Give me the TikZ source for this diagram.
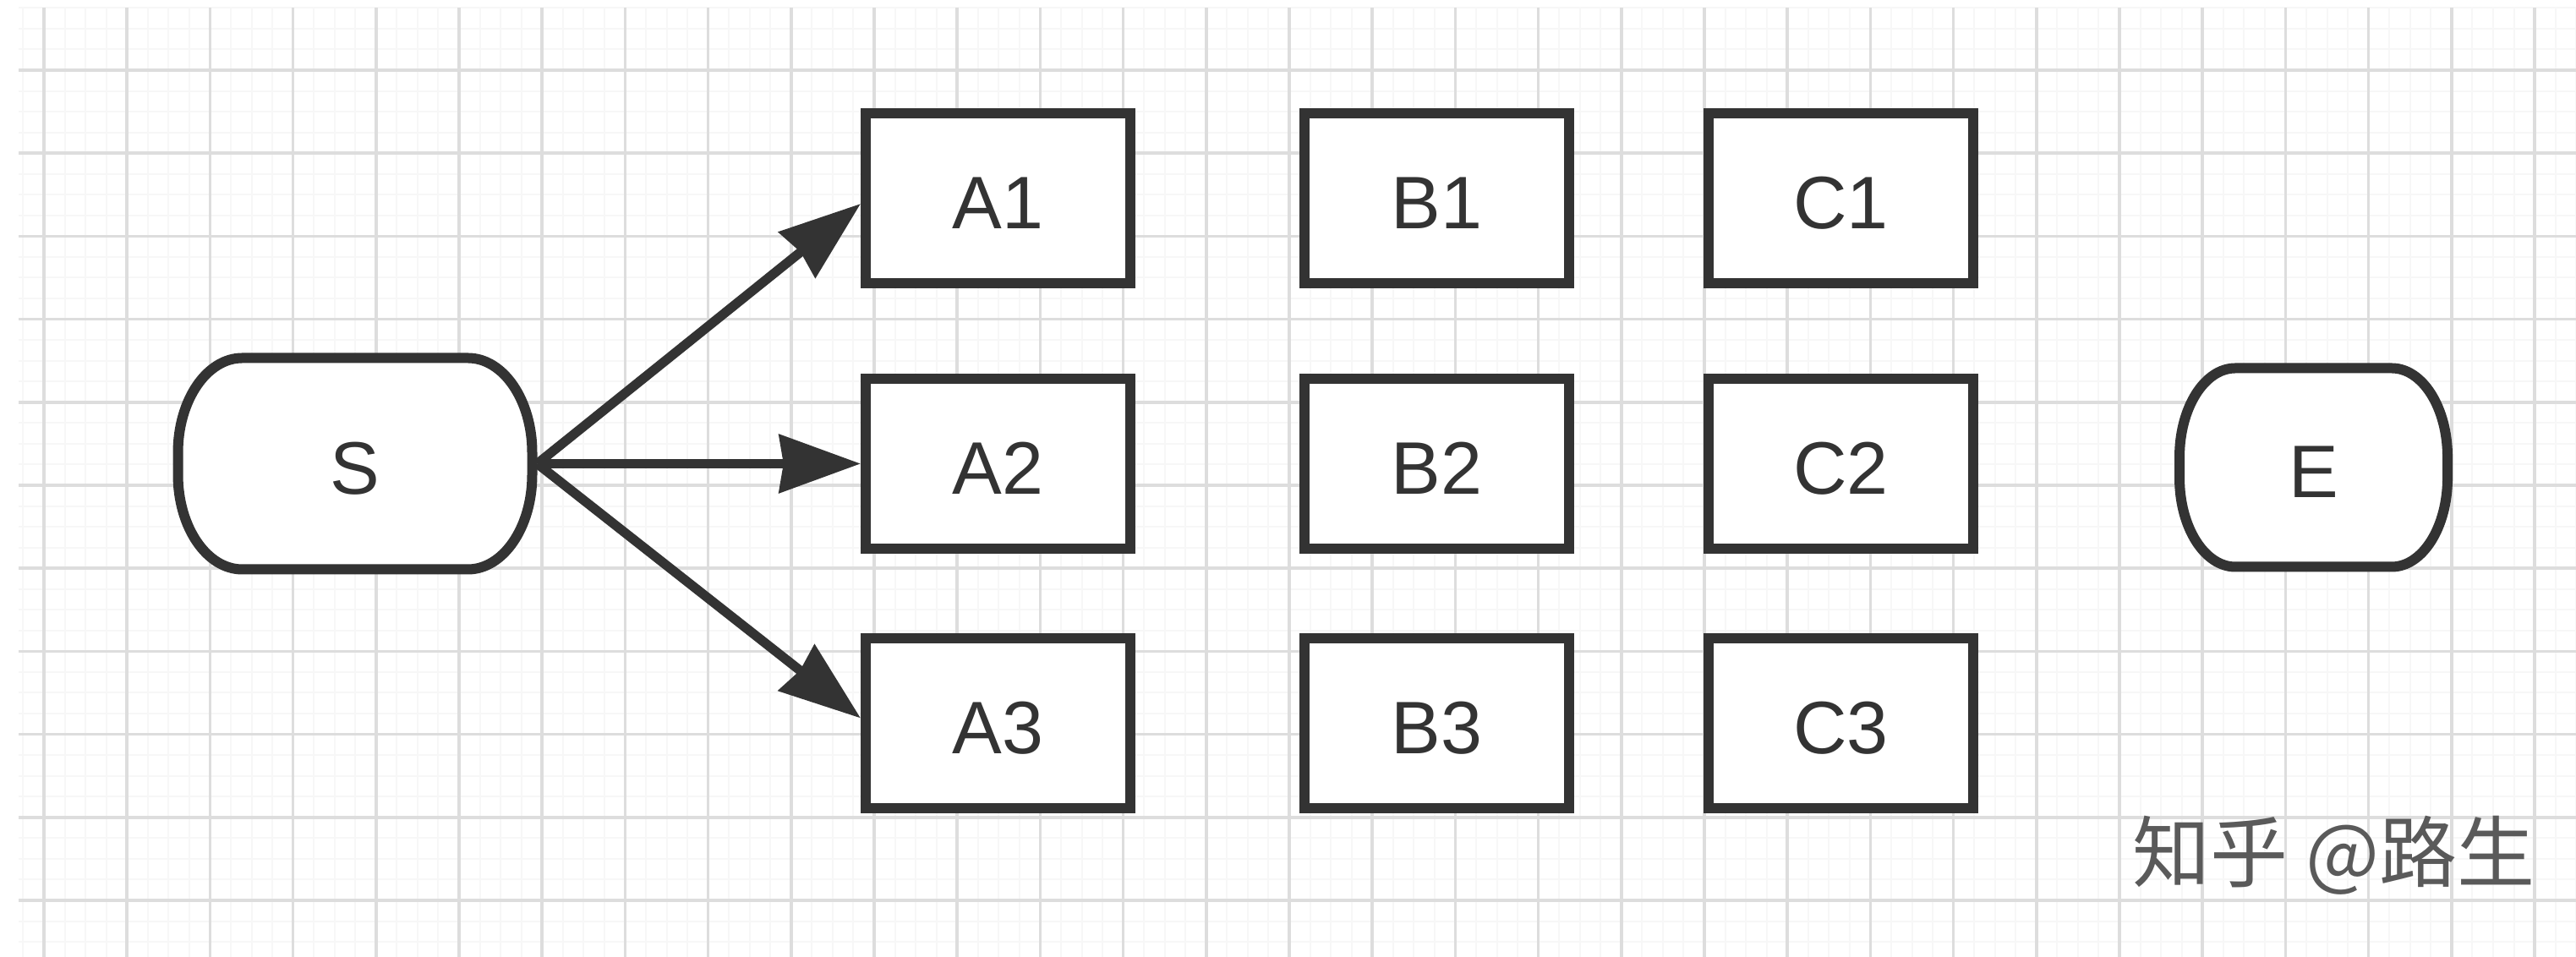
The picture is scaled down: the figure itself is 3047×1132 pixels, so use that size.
\documentclass[tikz,border=0pt]{standalone}
\usepackage{fontspec}
\setmainfont{Liberation Sans}
\newfontfamily\cjkfont{Noto Sans CJK SC}
\usetikzlibrary{arrows.meta}
\definecolor{ink}{HTML}{333333}
\definecolor{gridmaj}{HTML}{DDDDDD}
\definecolor{gridmin}{HTML}{F7F7F7}
\definecolor{wm}{HTML}{5A5A5A}
\pgfdeclarelayer{gridlayer}
\pgfdeclarelayer{shapelayer}
\pgfsetlayers{gridlayer,shapelayer,main}
\begin{document}
\begin{tikzpicture}[x=0.25pt,y=0.25pt,
  lbl/.style={text=ink, font=\fontsize{22}{26}\selectfont, text height=18pt, text depth=0pt},
  box/.style={lbl, draw=ink, line width=3pt, fill=white, minimum width=78.25pt, minimum height=50.25pt, inner sep=0pt},
  term/.style={lbl, inner sep=0pt, outer sep=0pt},
  termline/.style={draw=ink, fill=white, line width=3pt},
  conn/.style={draw=ink, line width=2.8pt, -{Stealth[length=24pt,width=17pt,inset=1.2pt]}},
  wmark/.style={text=wm, font=\cjkfont\fontsize{23}{28}\selectfont, inner sep=0pt, anchor=west}]
\useasboundingbox (0,0) rectangle (3047,1132);
\begin{pgfonlayer}{gridlayer}
  \fill[white] (0,0) rectangle (3047,1132);
  % minor grid
  \draw[gridmin, line width=0.5pt]
    \foreach \i in {0,...,123} { ({27.45+24.55*\i},0) -- ({27.45+24.55*\i},1123) }
    \foreach \j in {0,...,45} { (22,{1132-9.35-24.55*\j}) -- (3047,{1132-9.35-24.55*\j}) };
  % major grid
  \draw[gridmaj, line width=0.9pt]
    \foreach \k in {0,...,30} { ({52+98.2*\k},0) -- ({52+98.2*\k},1123) }
    \foreach \k in {0,...,10} { (22,{1132-83-98.2*\k}) -- (3047,{1132-83-98.2*\k}) };
\end{pgfonlayer}

% terminators
\node[term, minimum width=107.75pt, minimum height=65.5pt] (S) at (420,583.5) {S};
\node[term, minimum width=82.25pt, minimum height=61.75pt] (E) at (2736.5,579) {E};

\begin{pgfonlayer}{shapelayer}
  % S: half width 209.5, half height 125, corner radii 76 x 112
  \draw[termline] ([shift={(-133.5,125)}]S.center) -- ([shift={(133.5,125)}]S.center)
    arc[start angle=90, end angle=0, x radius=76, y radius=112]
    -- ([shift={(209.5,-13)}]S.center)
    arc[start angle=0, end angle=-90, x radius=76, y radius=112]
    -- ([shift={(-133.5,-125)}]S.center)
    arc[start angle=270, end angle=180, x radius=76, y radius=112]
    -- ([shift={(-209.5,13)}]S.center)
    arc[start angle=180, end angle=90, x radius=76, y radius=112] -- cycle;
  % E: half width 158.5, half height 117.5, corner radii 66 x 105
  \draw[termline] ([shift={(-92.5,117.5)}]E.center) -- ([shift={(92.5,117.5)}]E.center)
    arc[start angle=90, end angle=0, x radius=66, y radius=105]
    -- ([shift={(158.5,-12.5)}]E.center)
    arc[start angle=0, end angle=-90, x radius=66, y radius=105]
    -- ([shift={(-92.5,-117.5)}]E.center)
    arc[start angle=270, end angle=180, x radius=66, y radius=105]
    -- ([shift={(-158.5,12.5)}]E.center)
    arc[start angle=180, end angle=90, x radius=66, y radius=105] -- cycle;
\end{pgfonlayer}

% boxes
\node[box] (A1) at (1180.5,897) {A1};
\node[box] (A2) at (1180.5,583.5) {A2};
\node[box] (A3) at (1180.5,276.5) {A3};
\node[box] (B1) at (1699.5,897) {B1};
\node[box] (B2) at (1699.5,583.5) {B2};
\node[box] (B3) at (1699.5,276.5) {B3};
\node[box] (C1) at (2177.5,897) {C1};
\node[box] (C2) at (2177.5,583.5) {C2};
\node[box] (C3) at (2177.5,276.5) {C3};

% connectors
\draw[conn] (S.east) -- ([yshift=-1.5pt]A1.west);
\draw[conn] (S.east) -- (A2.west);
\draw[conn] (S.east) -- ([yshift=1.5pt]A3.west);

% watermark
\node[wmark] (wm) at (2522,120) {知乎 @路生};
\end{tikzpicture}
\end{document}
